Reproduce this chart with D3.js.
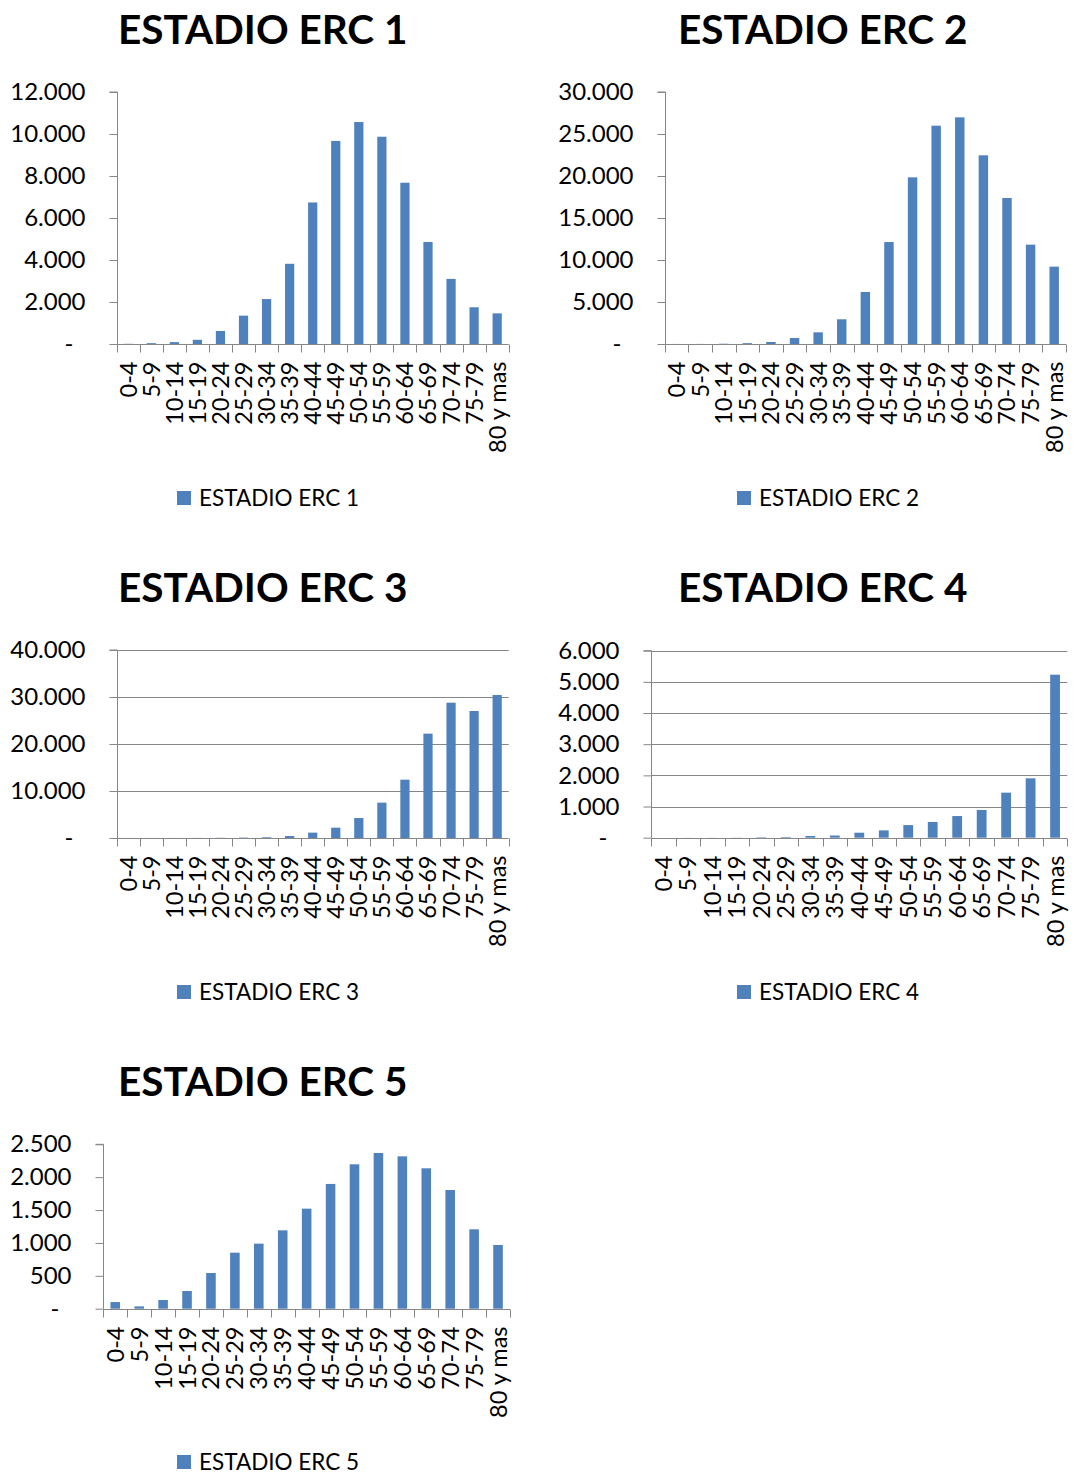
<!DOCTYPE html>
<html>
<head>
<meta charset="utf-8">
<script src="https://cdn.jsdelivr.net/npm/d3@7"></script>
<style>
  html, body { margin: 0; padding: 0; background: #fff; }
  svg { display: block; font-family: Lato, "Open Sans", sans-serif; }
</style>
</head>
<body>
<svg id="chart" width="1084" height="1474"></svg>
<script>
// Age groups shared by all five panels
const ageGroups = ["0-4", "5-9", "10-14", "15-19", "20-24", "25-29", "30-34", "35-39",
  "40-44", "45-49", "50-54", "55-59", "60-64", "65-69", "70-74", "75-79", "80 y mas"];

// Patients per age group, one series per CKD stage
const erc1 = [10, 40, 90, 200, 620, 1350, 2140, 3820, 6740, 9670, 10570, 9870, 7680, 4860, 3100, 1750, 1460];
const erc2 = [5, 10, 30, 100, 240, 710, 1390, 2940, 6190, 12140, 19840, 25990, 26980, 22460, 17380, 11830, 9210];
const erc3 = [5, 5, 10, 20, 40, 80, 150, 420, 1140, 2200, 4250, 7520, 12410, 22200, 28790, 27020, 30430];
const erc4 = [0, 2, 3, 5, 15, 20, 55, 70, 160, 235, 405, 505, 695, 890, 1445, 1905, 5230];
const erc5 = [101, 35, 132, 269, 543, 852, 989, 1192, 1521, 1897, 2196, 2368, 2317, 2135, 1805, 1207, 969];

// Value-axis ticks for each panel
const ticks1 = [0, 2000, 4000, 6000, 8000, 10000, 12000];
const ticks2 = [0, 5000, 10000, 15000, 20000, 25000, 30000];
const ticks3 = [0, 10000, 20000, 30000, 40000];
const ticks4 = [0, 1000, 2000, 3000, 4000, 5000, 6000];
const ticks5 = [0, 500, 1000, 1500, 2000, 2500];

// Panel titles (also used as legend entries)
const titles = ["ESTADIO ERC 1", "ESTADIO ERC 2", "ESTADIO ERC 3", "ESTADIO ERC 4", "ESTADIO ERC 5"];

// Layout of each panel on the page
const panels = [
  { title: titles[0], values: erc1, ticks: ticks1, grid: false,
    x0: 116.7, x1: 508.7, y0: 92, y1: 344, titleX: 118, titleY: 44, legX: 177, legY: 498 },
  { title: titles[1], values: erc2, ticks: ticks2, grid: false,
    x0: 664.7, x1: 1066, y0: 92, y1: 344, titleX: 678, titleY: 44, legX: 737, legY: 498 },
  { title: titles[2], values: erc3, ticks: ticks3, grid: true,
    x0: 116.7, x1: 508.7, y0: 650, y1: 838, titleX: 118, titleY: 602, legX: 177, legY: 992 },
  { title: titles[3], values: erc4, ticks: ticks4, grid: true,
    x0: 651.3, x1: 1067.3, y0: 650.7, y1: 837.7, titleX: 678, titleY: 602, legX: 737, legY: 992 },
  { title: titles[4], values: erc5, ticks: ticks5, grid: false,
    x0: 103.3, x1: 510, y0: 1144.3, y1: 1308.7, titleX: 118, titleY: 1096, legX: 177, legY: 1462 }
];

const barColor = "#4F81BD";
const axisColor = "#868686";
const locale = d3.formatLocale({ decimal: ",", thousands: ".", grouping: [3], currency: ["", ""] });
const fmt = locale.format(",d");

const svg = d3.select("#chart");

panels.forEach(p => {
  const g = svg.append("g");

  const x = d3.scaleBand()
    .domain(ageGroups)
    .range([p.x0, p.x1])
    .paddingInner(0.6)
    .paddingOuter(0.3);

  const y = d3.scaleLinear()
    .domain([0, d3.max(p.ticks)])
    .range([p.y1, p.y0]);

  // Title
  g.append("text")
    .attr("x", p.titleX)
    .attr("y", p.titleY)
    .attr("font-size", 40.5)
    .attr("font-weight", "bold")
    .attr("fill", "#000")
    .text(p.title);

  // Horizontal gridlines
  if (p.grid) {
    g.append("g")
      .selectAll("line")
      .data(p.ticks.filter(t => t > 0))
      .join("line")
      .attr("x1", p.x0).attr("x2", p.x1)
      .attr("y1", d => Math.round(y(d)) + 0.5)
      .attr("y2", d => Math.round(y(d)) + 0.5)
      .attr("stroke", axisColor)
      .attr("stroke-width", 1.2);
  }

  // Bars
  g.append("g")
    .selectAll("rect")
    .data(p.values)
    .join("rect")
    .attr("x", (d, i) => x(ageGroups[i]))
    .attr("width", x.bandwidth())
    .attr("y", d => y(d))
    .attr("height", d => y(0) - y(d))
    .attr("fill", barColor);

  // Value axis
  const yAxis = d3.axisLeft(y)
    .tickValues(p.ticks)
    .tickSize(8)
    .tickPadding(24)
    .tickFormat(d => d === 0 ? "-" : fmt(d));
  const ya = g.append("g")
    .attr("transform", `translate(${Math.round(p.x0) + 0.5},0)`)
    .call(yAxis);
  ya.select(".domain").attr("stroke", axisColor).attr("d", `M-8,${y(d3.max(p.ticks))}H0V${y(0)}`);
  ya.selectAll(".tick line").attr("stroke", axisColor);
  ya.selectAll(".tick text")
    .attr("font-size", 24)
    .attr("font-family", "Lato, sans-serif")
    .attr("fill", "#000")
    .attr("dx", d => d === 0 ? -12 : 0);

  // Category axis: ticks on band boundaries, labels at band centres
  const edges = d3.range(ageGroups.length + 1).map(i => p.x0 + i * x.step());
  const xa = g.append("g").attr("transform", `translate(0,${Math.round(p.y1) + 0.5})`);
  xa.append("line")
    .attr("x1", p.x0).attr("x2", p.x1)
    .attr("stroke", axisColor);
  xa.selectAll(".edge")
    .data(edges)
    .join("line")
    .attr("class", "edge")
    .attr("x1", d => Math.round(d) + 0.5).attr("x2", d => Math.round(d) + 0.5)
    .attr("y1", 0).attr("y2", 8)
    .attr("stroke", axisColor);
  xa.selectAll(".lbl")
    .data(ageGroups)
    .join("text")
    .attr("class", "lbl")
    .attr("transform", d => `translate(${x(d) + x.bandwidth() / 2},0) rotate(-90)`)
    .attr("x", -17)
    .attr("dy", "0.36em")
    .attr("text-anchor", "end")
    .attr("font-size", 23.5)
    .attr("fill", "#000")
    .text(d => d);

  // Legend
  const lg = g.append("g").attr("transform", `translate(${p.legX},${p.legY})`);
  lg.append("rect")
    .attr("x", 0).attr("y", -7)
    .attr("width", 14).attr("height", 14)
    .attr("fill", barColor);
  lg.append("text")
    .attr("x", 22)
    .attr("dy", "0.36em")
    .attr("font-size", 22.5)
    .attr("fill", "#000")
    .text(p.title);
});
</script>
</body>
</html>
